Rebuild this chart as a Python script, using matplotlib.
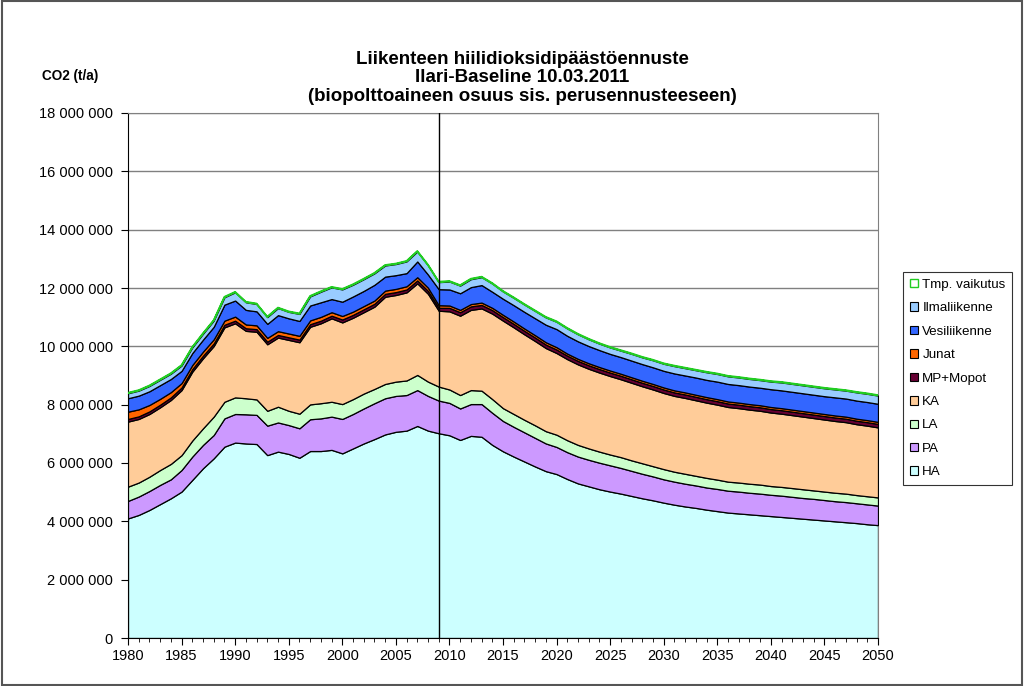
import matplotlib
matplotlib.use("Agg")
import matplotlib.pyplot as plt
from matplotlib.patches import Patch, Rectangle
from matplotlib.ticker import FuncFormatter, MultipleLocator
import numpy as np

plt.rcParams['font.family'] = ['Liberation Sans', 'DejaVu Sans']

years = list(range(1980, 2051))

# values in million t CO2 / a
HA = [4.10, 4.22, 4.39, 4.59, 4.79, 5.02, 5.42, 5.82, 6.16, 6.56,
      6.70, 6.67, 6.65, 6.27, 6.39, 6.31, 6.18, 6.41, 6.41, 6.45,
      6.33, 6.50, 6.67, 6.82, 6.98, 7.07, 7.11, 7.27, 7.11, 7.02,
      6.95, 6.79, 6.93, 6.90, 6.62, 6.40, 6.22, 6.05, 5.88, 5.72,
      5.62, 5.45, 5.30, 5.20, 5.10, 5.02, 4.95, 4.87, 4.79, 4.72,
      4.64, 4.57, 4.51, 4.46, 4.40, 4.35, 4.30, 4.27, 4.24, 4.21,
      4.18, 4.15, 4.12, 4.09, 4.06, 4.03, 4.00, 3.97, 3.94, 3.90,
      3.87]
PA = [0.60, 0.63, 0.65, 0.66, 0.65, 0.74, 0.80, 0.80, 0.80, 0.97,
      0.98, 1.00, 1.00, 1.01, 1.00, 0.99, 1.01, 1.09, 1.12, 1.14,
      1.18, 1.18, 1.20, 1.23, 1.24, 1.23, 1.22, 1.23, 1.19, 1.12,
      1.11, 1.08, 1.09, 1.12, 1.10, 1.04, 1.02, 1.00, 0.98, 0.95,
      0.93, 0.92, 0.92, 0.91, 0.91, 0.90, 0.88, 0.86, 0.84, 0.82,
      0.80, 0.79, 0.78, 0.77, 0.76, 0.76, 0.75, 0.75, 0.74, 0.74,
      0.73, 0.73, 0.72, 0.71, 0.71, 0.70, 0.69, 0.69, 0.68, 0.68,
      0.67]
LA = [0.49, 0.48, 0.49, 0.51, 0.53, 0.51, 0.55, 0.57, 0.63, 0.57,
      0.57, 0.55, 0.53, 0.51, 0.54, 0.49, 0.50, 0.51, 0.52, 0.51,
      0.51, 0.51, 0.51, 0.49, 0.49, 0.49, 0.50, 0.52, 0.49, 0.48,
      0.46, 0.46, 0.48, 0.46, 0.47, 0.44, 0.44, 0.43, 0.43, 0.42,
      0.42, 0.41, 0.40, 0.39, 0.38, 0.37, 0.37, 0.36, 0.36, 0.35,
      0.35, 0.34, 0.34, 0.33, 0.33, 0.32, 0.31, 0.31, 0.31, 0.31,
      0.30, 0.30, 0.30, 0.30, 0.29, 0.29, 0.29, 0.29, 0.28, 0.28,
      0.28]
KA = [2.23, 2.18, 2.15, 2.15, 2.19, 2.23, 2.36, 2.40, 2.42, 2.55,
      2.54, 2.31, 2.32, 2.28, 2.37, 2.43, 2.45, 2.66, 2.74, 2.86,
      2.80, 2.79, 2.79, 2.82, 2.99, 2.97, 3.02, 3.14, 3.01, 2.60,
      2.68, 2.72, 2.75, 2.82, 2.93, 3.00, 2.97, 2.93, 2.89, 2.85,
      2.80, 2.78, 2.76, 2.73, 2.71, 2.69, 2.67, 2.66, 2.64, 2.63,
      2.61, 2.60, 2.60, 2.59, 2.58, 2.57, 2.56, 2.55, 2.54, 2.53,
      2.52, 2.51, 2.50, 2.49, 2.48, 2.47, 2.46, 2.45, 2.43, 2.42,
      2.40]
MP = [0.09] * 20 + [0.10] * 10 + [0.12] * 41
JUNAT = [0.25, 0.24, 0.22, 0.20, 0.18, 0.15, 0.14, 0.14, 0.14, 0.14,
         0.14, 0.13, 0.13, 0.13, 0.13, 0.13, 0.13, 0.13, 0.13, 0.12,
         0.12, 0.11, 0.11, 0.11, 0.11, 0.11, 0.11, 0.11, 0.11, 0.09] + \
        [0.08] * 11 + [0.07] * 30
VESI = [0.46, 0.47, 0.47, 0.47, 0.45, 0.42, 0.41, 0.41, 0.43, 0.55,
        0.55, 0.50, 0.48, 0.48, 0.55, 0.52, 0.51, 0.51, 0.50, 0.45,
        0.49, 0.52, 0.52, 0.54, 0.48, 0.47, 0.45, 0.54, 0.45, 0.55,
        0.55, 0.57, 0.58, 0.60, 0.55, 0.55, 0.56, 0.57, 0.58, 0.60,
        0.62, 0.61, 0.60, 0.59, 0.58, 0.57, 0.57, 0.57, 0.57, 0.57,
        0.57, 0.58, 0.58, 0.59, 0.59, 0.60, 0.60, 0.60, 0.60, 0.60,
        0.61, 0.61, 0.61, 0.61, 0.61, 0.61, 0.62, 0.62, 0.62, 0.62,
        0.62]
ILMA = [0.17, 0.17, 0.18, 0.18, 0.18, 0.18, 0.19, 0.20, 0.21, 0.25,
        0.28, 0.26, 0.25, 0.23, 0.24, 0.22, 0.24, 0.31, 0.36, 0.40,
        0.42, 0.40, 0.40, 0.39, 0.38, 0.38, 0.40, 0.34, 0.32, 0.24,
        0.27, 0.26, 0.27, 0.27, 0.28, 0.25, 0.25, 0.25, 0.25, 0.25,
        0.25, 0.25, 0.24, 0.23, 0.22, 0.22, 0.22, 0.23, 0.23, 0.24,
        0.24, 0.25, 0.25, 0.25, 0.26, 0.26, 0.26, 0.26, 0.26, 0.26,
        0.26, 0.27, 0.27, 0.27, 0.27, 0.27, 0.27, 0.27, 0.28, 0.28,
        0.28]
TMP = [0.02] * 71

labels = ["HA", "PA", "LA", "KA", "MP+Mopot", "Junat", "Vesiliikenne",
          "Ilmaliikenne", "Tmp. vaikutus"]
colors = ["#CCFFFF", "#CC99FF", "#CCFFCC", "#FFCC99", "#660033", "#FF6600",
          "#3366FF", "#99CCFF", "none"]
green = "#22CC22"

series = [HA, PA, LA, KA, MP, JUNAT, VESI, ILMA, TMP]
data = np.array(series) * 1e6
x = np.array(years)

fig = plt.figure(figsize=(10.24, 6.86), dpi=100)
ax = fig.add_axes([128 / 1024, 48 / 686, 750 / 1024, 525 / 686])

# grid
for yv in range(2_000_000, 18_000_001, 2_000_000):
    ax.axhline(yv, color="#808080", lw=1.0, zorder=0)

base = np.zeros(len(x))
for i, (vals, col, lab) in enumerate(zip(data, colors, labels)):
    top = base + vals
    if col == "none":
        ax.fill_between(x, base, top, facecolor="none", edgecolor=green,
                        linewidth=1.2, zorder=2 + i)
    else:
        ax.fill_between(x, base, top, facecolor=col, edgecolor="black",
                        linewidth=0.9, zorder=2 + i)
    base = top

ax.axvline(2009, color="black", lw=1.0, zorder=20)

ax.set_xlim(1980, 2050)
ax.set_ylim(0, 18_000_000)
ax.xaxis.set_major_locator(MultipleLocator(5))
ax.xaxis.set_minor_locator(MultipleLocator(1))
ax.yaxis.set_major_locator(MultipleLocator(2_000_000))
ax.yaxis.set_major_formatter(FuncFormatter(lambda v, p: f"{int(v):,}".replace(",", " ")))
ax.tick_params(axis="both", which="major", direction="out", length=5,
               labelsize=10.5, color="black")
ax.tick_params(axis="x", which="minor", direction="out", length=3, color="black")
ax.tick_params(axis="y", which="major", pad=6)
ax.tick_params(axis="x", which="major", pad=3)
for s in ["top", "right"]:
    ax.spines[s].set_color("#808080")
for s in ["left", "bottom"]:
    ax.spines[s].set_color("black")

fig.text(522 / 1024, 1 - 78 / 686,
         "Liikenteen hiilidioksidipäästöennuste\nIlari-Baseline 10.03.2011\n(biopolttoaineen osuus sis. perusennusteeseen)",
         ha="center", va="center", fontsize=13.5, fontweight="bold",
         linespacing=1.1, transform=fig.transFigure)
fig.text(42 / 1024, 1 - 76 / 686, "CO2 (t/a)", ha="left", va="center",
         fontsize=9.8, fontweight="bold")

handles = []
for col, lab in zip(colors[::-1], labels[::-1]):
    if col == "none":
        handles.append(Patch(facecolor="none", edgecolor=green, lw=1.0, label=lab))
    else:
        handles.append(Patch(facecolor=col, edgecolor="black", lw=0.8, label=lab))
leg = fig.legend(handles=handles, loc="upper left",
                 bbox_to_anchor=(903 / 1024, 1 - 272 / 686),
                 fontsize=9.6, frameon=True, fancybox=False,
                 edgecolor="black", handlelength=0.6, handleheight=0.6,
                 handletextpad=0.35, labelspacing=0.86, borderpad=0.5,
                 borderaxespad=0)
leg.get_frame().set_linewidth(0.8)

fig.add_artist(Rectangle((0.002, 0.002), 0.996, 0.996, transform=fig.transFigure,
                         fill=False, edgecolor="#555555", lw=1.5))

fig.savefig("out.png", dpi=100)
